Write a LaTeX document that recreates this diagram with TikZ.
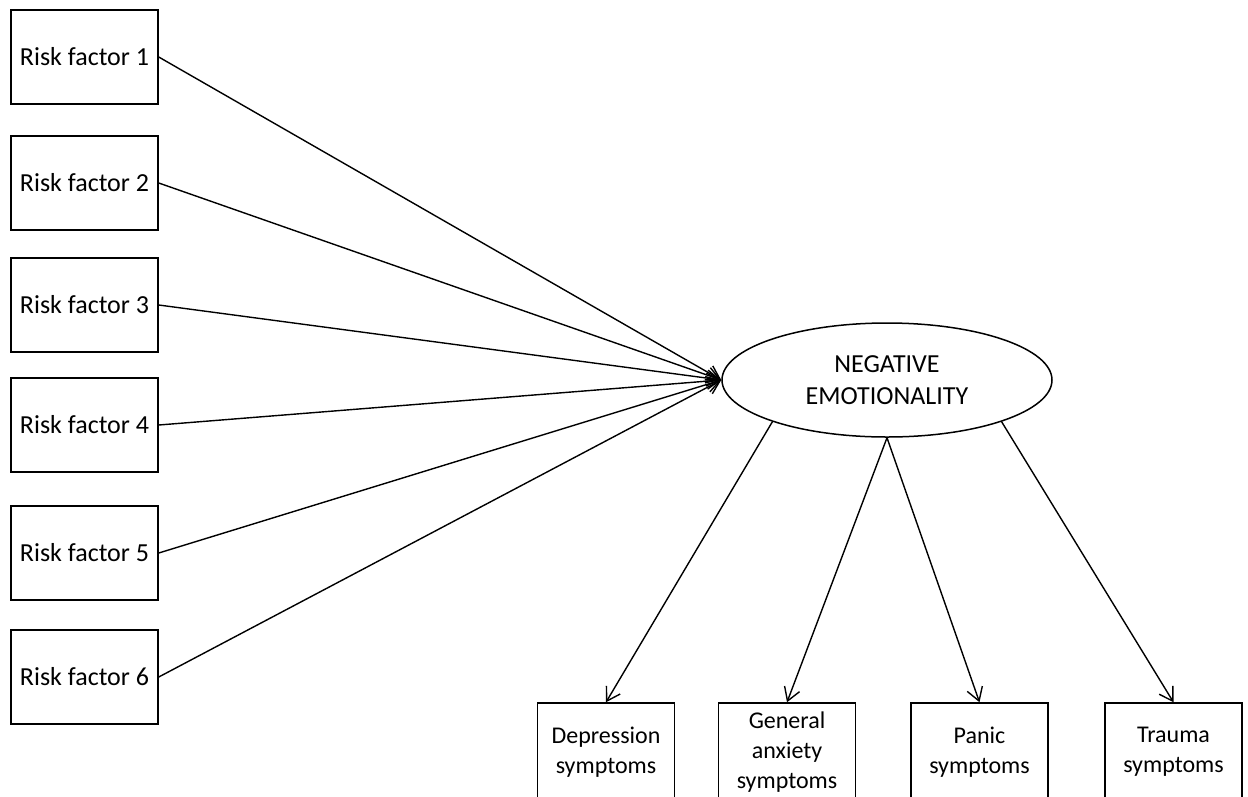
\documentclass[tikz,border=0pt]{standalone}
\usepackage{fontspec}
\setmainfont{Carlito}
\usetikzlibrary{shapes.geometric,arrows.meta}
\begin{document}
\begin{tikzpicture}[x=1pt,y=-1pt,
  riskbox/.style={draw,line width=1.5pt,rectangle,minimum width=147pt,minimum height=94pt,inner sep=0pt,font=\fontsize{26}{32}\selectfont},
  symbox/.style={draw,line width=1.5pt,rectangle,minimum width=137pt,minimum height=98pt,inner sep=0pt,align=center,font=\fontsize{24}{30}\selectfont},
  latent/.style={draw,line width=1.5pt,ellipse,minimum width=330pt,minimum height=114pt,inner sep=0pt,align=center,font=\fontsize{26}{32}\selectfont},
  conn/.style={line width=1.4pt,-{Straight Barb[length=13pt,width=16pt,line width=1.4pt]}}
]
\fill[white] (0,0) rectangle (1248,796);
\useasboundingbox (0,0) rectangle (1248,796);
\begin{scope}
\clip (0,0) rectangle (1248,796);
\node[riskbox] (r1) at (84.5,57) {Risk factor 1};
\node[riskbox] (r2) at (84.5,183) {Risk factor 2};
\node[riskbox] (r3) at (84.5,305) {Risk factor 3};
\node[riskbox] (r4) at (84.5,425) {Risk factor 4};
\node[riskbox] (r5) at (84.5,553) {Risk factor 5};
\node[riskbox] (r6) at (84.5,677) {Risk factor 6};
\node[latent] (ne) at (887,380) {NEGATIVE\\EMOTIONALITY};
\node[symbox] (d) at (606,752) {Depression\\symptoms};
\node[symbox] (g) at (787,752) {General\\anxiety\\symptoms};
\node[symbox] (p) at (979.5,752) {Panic\\symptoms};
\node[symbox] (t) at (1173.5,752) {Trauma\\symptoms};
\foreach \r in {r1,r2,r3,r4,r5,r6} {
  \draw[conn] (\r.east) -- (ne.west);
}
\draw[conn] (ne.200) -- (d.north);
\draw[conn] (ne.270) -- (g.north);
\draw[conn] (ne.270) -- (p.north);
\draw[conn] (ne.340) -- (t.north);
\end{scope}
\end{tikzpicture}
\end{document}
